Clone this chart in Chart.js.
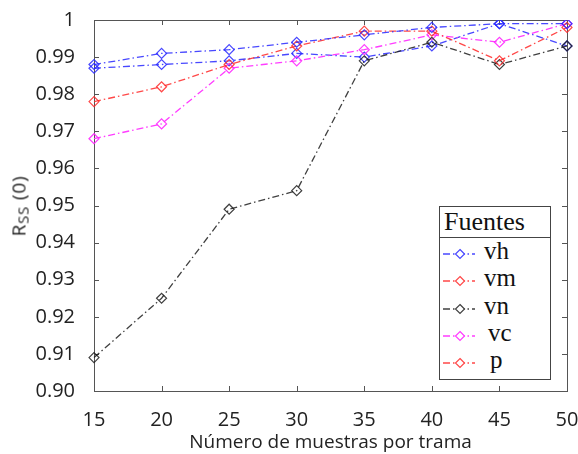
<!DOCTYPE html>
<html>
<head>
<meta charset="utf-8">
<script src="https://cdn.jsdelivr.net/npm/chart.js@4.4.1/dist/chart.umd.min.js"></script>
<style>
  html, body { margin:0; padding:0; background:#fff; }
  #wrap { position:relative; width:578px; height:454px; }
  #c { position:absolute; left:0; top:0; }
  #ytitle { position:absolute; left:19px; top:206px; transform:translate(-50%,-50%) rotate(-90deg);
            font-family:"Open Sans", sans-serif; font-size:19px; color:#222; white-space:nowrap; letter-spacing:0.8px; }
  #ytitle sub { font-size:15px; vertical-align:-3px; }
  #legend { position:absolute; left:439px; top:206px; width:112px; height:174px; border:1px solid #444; background:#fff;
            font-family:"Liberation Serif", "Times New Roman", serif; color:#111; box-sizing:border-box; }
  #legend .title { height:30px; border-bottom:1px solid #444; font-size:26px; line-height:30px; padding-left:4px; }
  #legend .item { position:absolute; left:0; height:27px; width:100%; }
  #legend .item svg { position:absolute; left:2px; top:6px; }
  #legend .item span { position:absolute; top:-3px; font-size:25px; line-height:27px; }
</style>
</head>
<body>
<div id="wrap">
  <canvas id="c" width="578" height="454"></canvas>
  <div id="ytitle">R<sub>SS</sub> (0)</div>
  <div id="legend"><div class="title">Fuentes</div></div>
</div>
<script>
// ---- data ----
const muestras = ['15', '20', '25', '30', '35', '40', '45', '50'];
const vh = [0.988, 0.991, 0.992, 0.994, 0.996, 0.998, 0.999, 0.999];
const vm = [0.978, 0.982, 0.988, 0.993, 0.997, 0.997, 0.989, 0.998];
const vn = [0.909, 0.925, 0.949, 0.954, 0.989, 0.994, 0.988, 0.993];
const vc = [0.968, 0.972, 0.987, 0.989, 0.992, 0.996, 0.994, 0.999];
const p  = [0.987, 0.988, 0.989, 0.991, 0.990, 0.993, 0.999, 0.993];
const seriesNames = ['vh', 'vm', 'vn', 'vc', 'p'];
const yTicks = [0.90, 0.91, 0.92, 0.93, 0.94, 0.95, 0.96, 0.97, 0.98, 0.99, 1];

// ---- styles ----
const lineColors   = ['rgba(40,40,255,0.85)', 'rgba(255,40,40,0.85)', 'rgba(30,30,30,0.85)', 'rgba(255,40,255,0.9)', 'rgba(40,40,255,0.85)'];
const legendColors = ['rgba(40,40,255,0.85)', 'rgba(255,40,40,0.85)', 'rgba(30,30,30,0.85)', 'rgba(255,40,255,0.9)', 'rgba(255,40,40,0.85)'];
const legendTextX  = [44, 44, 44, 48, 50];
const dashDot = [7, 3, 1.5, 3];
const values = [vh, vm, vn, vc, p];

const datasets = seriesNames.map((name, i) => ({
  label: name,
  data: values[i],
  borderColor: lineColors[i],
  borderWidth: 1.3,
  borderDash: dashDot,
  pointStyle: 'rectRot',
  pointRadius: 5,
  pointBorderWidth: 1.2,
  pointBorderColor: lineColors[i],
  pointBackgroundColor: 'rgba(255,255,255,0)',
  tension: 0,
  fill: false
}));

const frame = {
  id: 'frame',
  beforeDatasetsDraw(chart) {
    const { ctx, chartArea: a, scales } = chart;
    ctx.save();
    ctx.strokeStyle = '#555';
    ctx.lineWidth = 1;
    ctx.strokeRect(Math.round(a.left) + 0.5, Math.round(a.top) + 0.5, Math.round(a.right - a.left), Math.round(a.bottom - a.top));
    ctx.beginPath();
    const L = 5;
    scales.x.ticks.forEach((t, i) => {
      const x = Math.round(scales.x.getPixelForTick(i)) + 0.5;
      ctx.moveTo(x, a.bottom); ctx.lineTo(x, a.bottom - L);
      ctx.moveTo(x, a.top); ctx.lineTo(x, a.top + L);
    });
    scales.y.ticks.forEach((t) => {
      const y = Math.round(scales.y.getPixelForValue(t.value)) + 0.5;
      ctx.moveTo(a.left, y); ctx.lineTo(a.left + L, y);
      ctx.moveTo(a.right, y); ctx.lineTo(a.right - L, y);
    });
    ctx.stroke();
    ctx.restore();
  }
};

const chart = new Chart(document.getElementById('c'), {
  type: 'line',
  data: { labels: muestras, datasets },
  plugins: [frame],
  options: {
    responsive: false,
    animation: false,
    devicePixelRatio: 1,
    layout: { padding: { top: 20, right: 11, left: 0, bottom: 0 } },
    plugins: { legend: { display: false }, tooltip: { enabled: false } },
    scales: {
      x: {
        offset: false,
        grid: { display: false },
        border: { display: false },
        ticks: { font: { family: 'Open Sans', size: 20 }, color: '#222', padding: 9, maxRotation: 0, autoSkip: false },
        title: { display: true, text: 'Número de muestras por trama', font: { family: 'Open Sans', size: 19 }, color: '#222', padding: { top: 0, bottom: 0 } },
        afterFit(s) { s.height = 63; s.paddingLeft = 0; s.paddingRight = 0; }
      },
      y: {
        min: 0.90, max: 1,
        grid: { display: false },
        border: { display: false },
        afterBuildTicks(s) { s.ticks = yTicks.map(v => ({ value: v })); },
        ticks: {
          font: { family: 'Open Sans', size: 20 }, color: '#222', padding: 11,
          callback: v => (Math.abs(v - 1) < 1e-9 ? '1' : v.toFixed(2))
        },
        afterFit(s) { s.width = 94; s.paddingTop = 0; s.paddingBottom = 0; }
      }
    }
  }
});

// ---- legend (HTML) ----
const lg = document.getElementById('legend');
seriesNames.forEach((name, i) => {
  const it = document.createElement('div');
  it.className = 'item';
  it.style.top = (33 + i * 27.3) + 'px';
  const c = legendColors[i];
  it.innerHTML = '<svg width="34" height="16" viewBox="0 0 34 16">' +
    '<line x1="1" y1="8" x2="33" y2="8" stroke="' + c + '" stroke-width="1.3" stroke-dasharray="7 3 1.5 3"/>' +
    '<path d="M18 3.5 L22.5 8 L18 12.5 L13.5 8 Z" fill="#fff" stroke="' + c + '" stroke-width="1.2"/></svg>' +
    '<span style="left:' + legendTextX[i] + 'px">' + name + '</span>';
  lg.appendChild(it);
});
</script>
</body>
</html>
